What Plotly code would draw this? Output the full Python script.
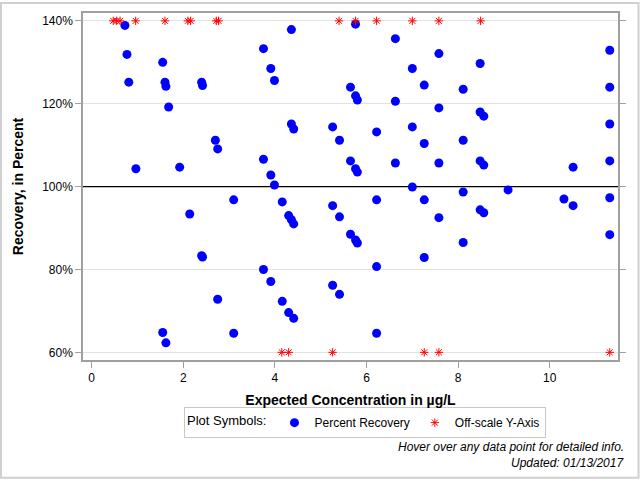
import plotly.graph_objects as go

# Percent recovery points (on-scale)
rec_x = [0.725, 0.77, 0.81, 0.965, 1.55, 1.55, 1.60, 1.62, 1.62, 1.68, 1.92, 2.14,
         2.40, 2.40, 2.42, 2.42, 2.70, 2.75, 2.75, 3.10, 3.10, 3.75, 3.75, 3.75,
         3.91, 3.91, 3.91, 3.99, 3.99, 4.16, 4.16, 4.30, 4.30, 4.36, 4.36, 4.36,
         4.41, 4.41, 4.41, 5.26, 5.26, 5.26, 5.41, 5.41, 5.41, 5.65, 5.65, 5.65,
         5.76, 5.76, 5.76, 5.76, 5.80, 5.80, 5.80, 6.22, 6.22, 6.22, 6.22,
         6.63, 6.63, 6.63, 7.00, 7.00, 7.00, 7.26, 7.26, 7.26, 7.26,
         7.58, 7.58, 7.58, 7.58, 8.11, 8.11, 8.11, 8.11, 8.48, 8.48, 8.48, 8.48,
         8.56, 8.56, 8.56, 9.09, 10.31, 10.51, 10.51,
         11.31, 11.31, 11.31, 11.31, 11.31, 11.31]
rec_y = [138.9, 131.9, 125.2, 104.3, 130.0, 64.8, 125.2, 124.2, 62.3, 119.2, 104.7, 93.4,
         125.2, 83.3, 124.4, 83.0, 111.2, 109.1, 72.8, 96.8, 64.6, 133.3, 106.6, 80.0,
         128.5, 102.8, 77.1, 125.6, 100.4, 96.3, 72.3, 93.0, 69.6, 137.9, 115.1, 92.0,
         113.9, 91.0, 68.2, 114.4, 95.4, 76.2, 111.2, 92.7, 74.0, 124.0, 106.2, 88.5,
         139.2, 121.9, 104.3, 87.1, 120.9, 103.5, 86.4, 113.2, 96.8, 80.7, 64.6,
         135.7, 120.6, 105.7, 128.5, 114.4, 99.9, 124.5, 110.4, 96.8, 82.9,
         132.1, 119.0, 105.7, 92.5, 123.5, 111.2, 98.7, 86.5, 129.7, 118.0, 106.2, 94.4,
         117.0, 105.2, 93.7, 99.2, 97.0, 104.7, 95.4,
         132.9, 124.0, 115.1, 106.2, 97.3, 88.4]

# Off-scale points (plotted at the axis limits)
off_hi_x = [0.47, 0.545, 0.62, 0.96, 1.60, 2.10, 2.16, 2.72, 2.77, 5.40, 5.76, 6.22,
            7.00, 7.58, 8.49]
off_lo_x = [4.15, 4.30, 5.26, 7.26, 7.58, 11.31]
off_hi_y = [140] * len(off_hi_x)
off_lo_y = [60] * len(off_lo_x)

# Reference line
ref_x = [-0.19, 11.49]
ref_y = [100, 100]

y_ticks = [60, 80, 100, 120, 140]
y_tick_labels = ["60%", "80%", "100%", "120%", "140%"]
x_ticks = [0, 2, 4, 6, 8, 10]

FONT = "Liberation Sans, Arial, sans-serif"

fig = go.Figure()
fig.add_trace(go.Scatter(
    x=ref_x, y=ref_y, mode="lines", showlegend=False, hoverinfo="skip",
    line=dict(color="black", width=1.3)))
fig.add_trace(go.Scatter(
    x=rec_x, y=rec_y, mode="markers", name="Percent Recovery",
    marker=dict(symbol="circle", size=9, color="#0000ff", line=dict(width=0)),
    hovertemplate="Concentration: %{x} µg/L<br>Recovery: %{y}%<extra></extra>"))
fig.add_trace(go.Scatter(
    x=off_hi_x + off_lo_x, y=off_hi_y + off_lo_y, mode="markers", name="Off-scale Y-Axis",
    marker=dict(symbol="asterisk-open", size=7, color="#ff0000",
                line=dict(width=1, color="#ff0000")),
    hovertemplate="Concentration: %{x} µg/L<br>Off-scale<extra></extra>"))

L, R, T, B = 83, 22, 11, 120
W, H = 640, 480
pw, ph = W - L - R, H - T - B

def px(xp):
    return (xp - L) / pw

def py(yp):
    return (H - B - yp) / ph

fig.add_shape(type="rect", xref="paper", yref="paper",
              x0=px(1), x1=px(638.5), y0=py(478.5), y1=py(1),
              line=dict(color="#d0d0d0", width=2), layer="below")

fig.update_layout(
    width=W, height=H,
    margin=dict(l=L, r=R, t=T, b=B),
    paper_bgcolor="white", plot_bgcolor="white",
    font=dict(family=FONT, size=12, color="black"),
    showlegend=True,
    legend=dict(orientation="h", x=px(184), y=py(423), xanchor="left", yanchor="middle",
                bordercolor="#c8c8c8", borderwidth=1, bgcolor="white",
                title=dict(text="Plot Symbols:", font=dict(size=13)),
                font=dict(size=12), itemwidth=30, tracegroupgap=0),
    xaxis=dict(range=[-0.19, 11.49], tickvals=x_ticks, showgrid=False, zeroline=False,
               showline=True, linecolor="#a0a0a0", linewidth=1.5, mirror=True,
               ticks="outside", ticklen=6, tickcolor="#a0a0a0",
               tickfont=dict(size=12),
               title=dict(text="<b>Expected Concentration in µg/L</b>",
                          font=dict(size=14), standoff=11)),
    yaxis=dict(range=[58.15, 141.9], tickvals=y_ticks, ticktext=y_tick_labels,
               showgrid=True, gridcolor="#e2e2e2", gridwidth=1, zeroline=False,
               showline=True, linecolor="#a0a0a0", linewidth=1.5, mirror="ticks",
               ticks="outside", ticklen=6, tickcolor="#a0a0a0",
               tickfont=dict(size=12),
               title=dict(text="<b>Recovery, in Percent</b>", font=dict(size=14),
                          standoff=15)),
    annotations=[
        dict(text="<i>Hover over any data point for detailed info.</i>", xref="paper",
             yref="paper", x=px(626), y=py(447), xanchor="right", yanchor="middle",
             showarrow=False, font=dict(size=12)),
        dict(text="<i>Updated: 01/13/2017</i>", xref="paper", yref="paper",
             x=px(626), y=py(464), xanchor="right", yanchor="middle",
             showarrow=False, font=dict(size=12)),
    ],
)

fig.write_html("out.html")
